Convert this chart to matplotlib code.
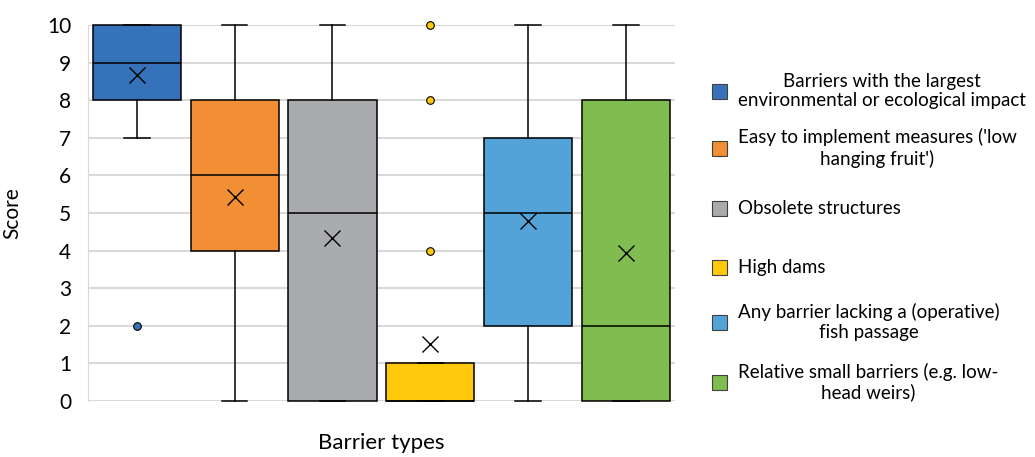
import matplotlib.pyplot as plt
from matplotlib.patches import Rectangle

plt.rcParams['font.family'] = ['Lato', 'DejaVu Sans']

# Barrier types and their box statistics (scores 0-10)
labels = [
    "Barriers with the largest\nenvironmental or ecological impact",
    "Easy to implement measures ('low\nhanging fruit')",
    "Obsolete structures",
    "High dams",
    "Any barrier lacking a (operative)\nfish passage",
    "Relative small barriers (e.g. low-\nhead weirs)",
]
colors = ['#3672BA', '#F28E33', '#A9ABAE', '#FFCA0E', '#53A3D9', '#80BC50']

whislo = [7, 0, 0, 0, 0, 0]
q1 = [8, 4, 0, 0, 2, 0]
med = [9, 6, 5, 0, 5, 2]
q3 = [10, 8, 8, 1, 7, 8]
whishi = [10, 10, 10, 1, 10, 10]
means = [8.67, 5.42, 4.33, 1.53, 4.8, 3.93]
fliers = [[2], [], [], [4, 8, 10], [], []]

stats = []
for i in range(len(labels)):
    stats.append(dict(whislo=whislo[i], q1=q1[i], med=med[i], q3=q3[i],
                      whishi=whishi[i], mean=means[i], fliers=fliers[i]))

fig = plt.figure(figsize=(10.35, 4.57), dpi=100)
ax = fig.add_axes([0.085, 0.1225, 0.567, 0.8225])

bp = ax.bxp(stats, positions=range(len(labels)), widths=0.9, capwidths=0.26,
            patch_artist=True, showmeans=True, showfliers=True,
            boxprops=dict(edgecolor='black', linewidth=1.1),
            medianprops=dict(color='black', linewidth=1.1),
            whiskerprops=dict(color='black', linewidth=1.1),
            capprops=dict(color='black', linewidth=1.1),
            meanprops=dict(marker='x', markeredgecolor='black', markersize=11,
                           markeredgewidth=1.0),
            flierprops=dict(marker='o', markersize=5.5, markeredgecolor='black',
                            markeredgewidth=0.8))

for patch, c in zip(bp['boxes'], colors):
    patch.set_facecolor(c)
for fl, c in zip(bp['fliers'], colors):
    fl.set_markerfacecolor(c)
for key in ['boxes', 'medians', 'whiskers', 'caps', 'means', 'fliers']:
    for a in bp[key]:
        a.set_clip_on(False)
        a.set_zorder(3)

ax.set_xlim(-0.5, 5.5)
ax.set_ylim(0, 10)
ax.set_yticks(range(0, 11))
ax.set_xticks([])
ax.yaxis.grid(True, color='#D9D9D9', linewidth=1.5)
ax.set_axisbelow(True)
for s in ['top', 'right', 'bottom']:
    ax.spines[s].set_visible(False)
ax.spines['left'].set_color('#D9D9D9')
ax.tick_params(axis='y', length=0, labelsize=15, pad=12)
ax.set_ylabel('Score', fontsize=15, labelpad=18)
ax.set_xlabel('Barrier types', fontsize=16, labelpad=23)

# legend drawn on the right
leg_y = [91, 148, 208, 267, 322, 382]
W, H = 1035, 457
for lab, c, y in zip(labels, colors, leg_y):
    fig.patches.append(Rectangle((712 / W, 1 - (y + 7.5) / H), 15 / W, 15 / H,
                                 transform=fig.transFigure, facecolor=c,
                                 edgecolor='#404040', linewidth=0.8))
    fig.text(738 / W, 1 - y / H, lab, ha='left', va='center',
             multialignment='center', fontsize=13.5, linespacing=1.2)

fig.savefig('out.png', dpi=100)
